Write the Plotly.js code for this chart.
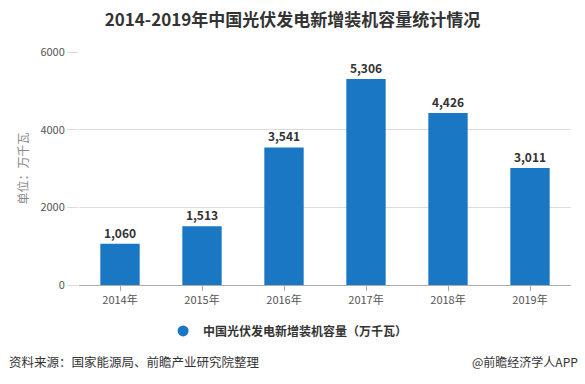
<!DOCTYPE html>
<html>
<head>
<meta charset="utf-8">
<script src="https://cdn.plot.ly/plotly-3.0.1.min.js"></script>
<style>html,body{margin:0;padding:0;background:#fff;}#chart{width:585px;height:384px;}</style>
</head>
<body>
<div id="chart"></div>
<script>
const years = ['2014年','2015年','2016年','2017年','2018年','2019年'];
const capacity = [1060, 1513, 3541, 5306, 4426, 3011];
const seriesName = '中国光伏发电新增装机容量（万千瓦）';
const yTicks = [0, 2000, 4000, 6000];

const FONT = '"Noto Sans CJK SC", "Microsoft YaHei", sans-serif';
const BLUE = '#1a77c3';
const bars = {
  type: 'bar',
  x: years,
  y: capacity,
  name: seriesName,
  marker: {color: BLUE},
  width: 0.48,
  texttemplate: '%{y:,}',
  textposition: 'outside',
  cliponaxis: false,
  textfont: {family: FONT, size: 12, color: '#333', weight: 'bold'},
  showlegend: false
};
// legend entry with a round symbol, same series
const legendEntry = {
  type: 'scatter',
  mode: 'markers',
  x: [null],
  y: [null],
  name: seriesName,
  marker: {color: BLUE, symbol: 'circle', size: 11},
  showlegend: true,
  hoverinfo: 'skip'
};
const layout = {
  width: 585, height: 384,
  margin: {l: 79, r: 14, t: 52, b: 99},
  paper_bgcolor: '#fff', plot_bgcolor: '#fff',
  font: {family: FONT, size: 11, color: '#555'},
  title: {text: '<b>2014-2019年中国光伏发电新增装机容量统计情况</b>', x: 0.5, xanchor: 'center', y: 0.948, yanchor: 'middle', font: {size: 17, color: '#333', family: FONT}},
  xaxis: {type: 'category', categoryarray: years, showline: true, linecolor: '#aaa', ticks: 'outside', ticklen: 5, tickcolor: '#aaa', tickfont: {size: 11, color: '#555'}, showgrid: false, fixedrange: true},
  yaxis: {range: [0, 6000], tickvals: yTicks, ticktext: yTicks.map(String), showgrid: true, gridcolor: '#dcdcdc', zeroline: false, ticks: 'outside', ticklen: 11, tickcolor: '#dcdcdc', tickfont: {size: 11, color: '#555'},
    title: {text: '单位：万千瓦', font: {size: 12, color: '#888'}, standoff: 9}},
  bargap: 0.52,
  showlegend: true,
  legend: {orientation: 'h', x: 0.425, xanchor: 'center', y: -0.197, yanchor: 'middle', font: {size: 12, color: '#333', weight: 'bold', family: FONT}, itemwidth: 30},
  annotations: [
    {text: '资料来源：国家能源局、前瞻产业研究院整理', xref: 'paper', yref: 'paper', x: -0.146, xanchor: 'left', y: -0.33, yanchor: 'middle', showarrow: false, font: {size: 12.5, color: '#333'}},
    {text: '@前瞻经济学人APP', xref: 'paper', yref: 'paper', x: 1.018, xanchor: 'right', y: -0.33, yanchor: 'middle', showarrow: false, font: {size: 12, color: '#333'}}
  ]
};
Plotly.newPlot('chart', [bars, legendEntry], layout, {displayModeBar: false, staticPlot: true});
</script>
</body>
</html>
